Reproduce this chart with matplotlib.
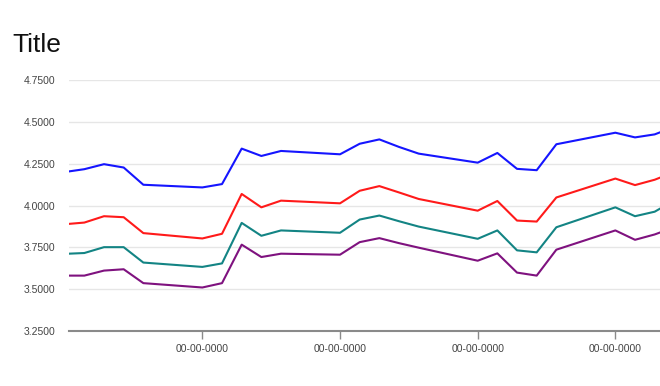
import matplotlib
matplotlib.use("Agg")
import matplotlib.pyplot as plt

plt.rcParams['font.family'] = ['Liberation Sans', 'DejaVu Sans']

# trading-day offsets (days relative to first labelled tick)
days = [-7, -6, -5, -4, -3, 0, 1, 2, 3, 4, 7, 8, 9, 10, 11,
        14, 15, 16, 17, 18, 21, 22, 23, 24]

blue = [4.200, 4.217, 4.247, 4.227, 4.124, 4.108, 4.128, 4.340, 4.296, 4.326,
        4.306, 4.369, 4.395, 4.350, 4.310, 4.256, 4.314, 4.219, 4.211, 4.366,
        4.435, 4.407, 4.425, 4.470]
red = [3.888, 3.898, 3.936, 3.930, 3.835, 3.803, 3.831, 4.069, 3.989, 4.029,
       4.013, 4.088, 4.116, 4.078, 4.039, 3.969, 4.027, 3.910, 3.904, 4.048,
       4.161, 4.122, 4.154, 4.200]
teal = [3.711, 3.716, 3.751, 3.751, 3.659, 3.633, 3.654, 3.896, 3.819, 3.851,
        3.837, 3.916, 3.940, 3.906, 3.874, 3.801, 3.851, 3.732, 3.720, 3.870,
        3.989, 3.936, 3.963, 4.030]
purple = [3.581, 3.581, 3.611, 3.619, 3.536, 3.510, 3.536, 3.766, 3.692, 3.712,
          3.706, 3.781, 3.805, 3.775, 3.748, 3.670, 3.714, 3.599, 3.581, 3.736,
          3.851, 3.795, 3.827, 3.870]

series = [(blue, '#1515ff'), (red, '#ff1a1a'), (teal, '#138484'), (purple, '#7f127f')]

xticks = [0, 7, 14, 21]
xtick_labels = ['00-00-0000'] * 4
yticks = [3.25, 3.5, 3.75, 4.0, 4.25, 4.5, 4.75]

fig = plt.figure(figsize=(6.6, 3.86), dpi=100)
ax = fig.add_axes([69/660, 55/386, 1 - 69/660, (331-80)/386])

for vals, c in series:
    ax.plot(days, vals, color=c, linewidth=1.5, solid_joinstyle='round')

ax.set_xlim(-6.78, 23.27)
ax.set_ylim(3.25, 4.75)
ax.set_yticks(yticks)
ax.set_yticklabels([f'{v:.4f}' for v in yticks])
ax.set_xticks(xticks)
ax.set_xticklabels(xtick_labels)

ax.grid(axis='y', color='#e6e6e6', linewidth=1)
ax.set_axisbelow(True)
for s in ['top', 'right', 'left']:
    ax.spines[s].set_visible(False)
ax.spines['bottom'].set_color('#8a8a8a')
ax.spines['bottom'].set_linewidth(1.5)

ax.tick_params(axis='y', length=0, pad=10, labelsize=7.5, labelcolor='#444444')
ax.tick_params(axis='x', length=6, width=1, color='#8a8a8a', pad=3,
               labelsize=7.5, labelcolor='#444444')

fig.text(12/660, 1 - 52/386, 'Title', fontsize=19, color='#111111',
         ha='left', va='baseline')

fig.savefig('out.png', dpi=100)
